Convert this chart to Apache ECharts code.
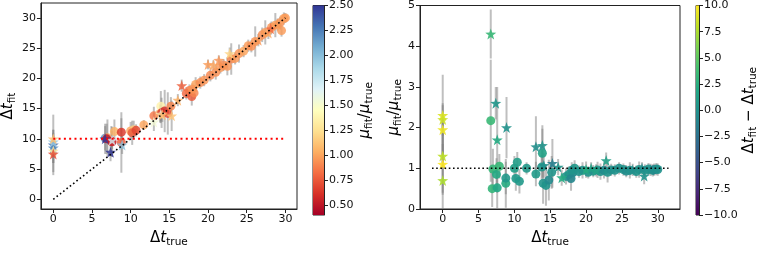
<!DOCTYPE html>
<html><head><meta charset="utf-8">
<script src="https://cdn.jsdelivr.net/npm/echarts@6/dist/echarts.min.js"></script>
<style>html,body{margin:0;padding:0;background:#fff}#c{width:760px;height:253px}</style>
</head><body><div id="c"></div>
<script>
// ---- data ----
const dtTrue = [0,0,0,0,0,0, 6.7,6.7,7.4,7.6,8.9,7.0,7.5,7.9,6.9,7.6,8.8,8.8, 10.0,10.4,10.2,10.7,11.7, 13.0,13.0,13.9,13.9,13.8,14.1,14.0,14.4,14.8,15.2,15.3, 16.1,16.6,17.2,17.6,17.9,18.2,18.4,18.0, 19.0,19.5,20.0,20.3,20.7,21.0,21.4,21.6,22.0,22.5,22.8,23.0,23.5,24.0, 24.6,25.2,25.6,26.1,26.5,27.0,27.4,27.8,28.1,28.2,28.7,29.0,29.3,29.5,29.8,30.0];
const dtFit = [9.0,8.5,9.5,8.0,10.0,7.5, 10.0,10.1,7.8,9.8,9.0,10.2,9.6,11.2,10.0,9.5,11.1,9.4, 11.3,11.5,11.0,11.4,12.3, 13.8,12.8,14.1,15.4,14.2,14.0,14.3,14.6,14.2,15.4,13.8, 16.4,18.8,17.5,18.0,17.0,17.6,19.0,18.2, 19.3,19.7,22.3,20.5,22.2,21.0,23.0,21.8,22.2,22.0,24.1,23.2,23.3,24.1, 24.5,25.4,25.3,26.1,26.3,27.2,27.6,27.5,28.2,28.4,28.8,28.9,29.2,27.9,29.9,30.0];
const dtFitErr = [5.0,2.5,2.0,2.0,1.5,3.0, 2.5,2.0,1.5,1.5,1.5,3.0,2.5,2.0,2.5,2.5,2.3,5.0, 1.5,1.5,2.0,1.0,0.8, 1.5,1.5,1.5,2.5,1.5,1.2,2.5,3.5,3.5,1.5,2.5, 1.0,1.0,1.0,1.0,1.5,1.0,1.2,1.0, 1.0,1.0,0.8,1.0,0.8,1.2,0.8,1.0,1.0,1.5,1.0,2.6,1.0,1.5, 1.0,1.0,1.0,2.5,1.0,1.2,2.0,1.0,1.0,1.0,2.0,1.0,1.0,1.0,1.0,0.8];
const muRatio = [2.3,2.2,1.95,1.3,1.1,0.7, 4.3,2.17,2.6,1.7,2.0,0.98,0.85,1.05,0.5,0.52,0.63,0.76, 1.0,1.15,0.75,0.68,1.0, 0.86,1.53,1.56,1.37,1.03,1.07,0.63,0.58,0.71,0.9,1.12, 1.03,0.77,0.8,0.85,0.75,0.9,1.0,0.95, 0.92,0.95,0.97,0.9,1.0,0.93,0.95,0.96,0.92,0.95,1.19,0.9,0.96,0.95, 1.0,0.97,0.93,0.95,0.96,0.92,0.97,1.0,0.81,0.95,0.98,0.96,0.95,0.97,0.98,0.97];
const muRatioErr = [1.0,0.4,0.6,0.9,0.75,0.9, 0.6,1.5,0.4,1.3,0.75,0.5,0.4,0.3,0.45,0.5,0.6,0.4, 0.3,0.25,0.3,0.3,0.15, 0.3,0.75,0.5,0.6,0.3,0.3,0.5,0.5,0.5,0.4,0.6, 0.2,0.2,0.2,0.2,0.3,0.2,0.2,0.2, 0.15,0.2,0.2,0.15,0.15,0.15,0.15,0.2,0.2,0.2,0.2,0.25,0.15,0.15, 0.15,0.15,0.15,0.2,0.15,0.15,0.2,0.15,0.2,0.15,0.15,0.15,0.15,0.15,0.15,0.15];
const isStar = [1,1,1,1,1,1, 1,0,1,1,1,0,0,0,0,0,0,0, 0,0,0,0,0, 0,1,1,0,0,1,0,0,0,0,1, 1,1,0,0,0,0,0,0, 0,0,1,0,1,0,1,0,0,0,1,0,0,0, 0,0,0,0,1,0,0,1,1,0,0,1,0,0,0,0];

const xTicks = [0,5,10,15,20,25,30];
const yTicksLeft = [0,5,10,15,20,25,30];
const yTicksRight = [0,1,2,3,4,5];
const muTicks = [0.5,0.75,1.0,1.25,1.5,1.75,2.0,2.25,2.5];
const diffTicks = [-10,-7.5,-5,-2.5,0,2.5,5,7.5,10];
const diagLine = [[0,0],[30,30]];
const refLineLeft = [[0,10],[30,10]];
const refLineRight = [[-1.5,1],[31.5,1]];
const muRange = [0.4, 2.5];
const diffRange = [-10, 10];

// ---- colormaps ----
const RdYlBu = ['#a50026','#d73027','#f46d43','#fdae61','#fee090','#ffffbf','#e0f3f8','#abd9e9','#74add1','#4575b4','#313695'];
const viridis = ['#440154','#482475','#414487','#355f8d','#2a788e','#21918c','#22a884','#44bf70','#7ad151','#bddf26','#fde725'];
function hex2rgb(h){return [parseInt(h.substr(1,2),16),parseInt(h.substr(3,2),16),parseInt(h.substr(5,2),16)];}
function cmap(stops,t){
  t=Math.max(0,Math.min(1,t));
  const n=stops.length-1, f=t*n, i=Math.min(Math.floor(f),n-1), u=f-i;
  const a=hex2rgb(stops[i]), b=hex2rgb(stops[i+1]);
  return 'rgb('+a.map((v,k)=>Math.round(v+(b[k]-v)*u)).join(',')+')';
}
const muColor = v => cmap(RdYlBu,(v-muRange[0])/(muRange[1]-muRange[0]));
const diffColor = v => cmap(viridis,(v-diffRange[0])/(diffRange[1]-diffRange[0]));

// ---- derived tables ----
const idx = dtTrue.map((_,i)=>i);
const leftErr = idx.map(i=>[dtTrue[i], dtFit[i]-dtFitErr[i], dtFit[i]+dtFitErr[i]]);
const rightErr = idx.map(i=>[dtTrue[i], muRatio[i]-muRatioErr[i], muRatio[i]+muRatioErr[i]]);
const leftPts = s => idx.filter(i=>isStar[i]===s).map(i=>[dtTrue[i], dtFit[i], muRatio[i]]);
const rightPts = s => idx.filter(i=>isStar[i]===s).map(i=>[dtTrue[i], muRatio[i], dtFit[i]-dtTrue[i]]);

const STAR = 'path://M0,-10L2.35,-3.24L9.51,-3.09L3.8,1.24L5.88,8.09L0,4L-5.88,8.09L-3.8,1.24L-9.51,-3.09L-2.35,-3.24Z';
const FONT = 'DejaVu Sans';
const rich = {
  a:{fontFamily:FONT,fontSize:15,color:'#000'},
  i:{fontFamily:FONT,fontSize:15,fontStyle:'italic',color:'#000'},
  s:{fontFamily:FONT,fontSize:10.5,color:'#000',verticalAlign:'bottom',padding:[8,0,0,0]}
};

function errRender(params, api){
  const x=api.value(0), p1=api.coord([x,api.value(1)]), p2=api.coord([x,api.value(2)]);
  return {type:'line',shape:{x1:p1[0],y1:p1[1],x2:p2[0],y2:p2[1]},style:{stroke:'rgba(128,128,128,0.5)',lineWidth:2}};
}
function cbRender(stops){
  return function(params, api){
    const p1=api.coord([0,api.value(2)]), p2=api.coord([1,api.value(1)]);
    const cs=stops.map((c,k)=>({offset:1-k/(stops.length-1),color:c}));
    return {type:'rect',shape:{x:p1[0],y:p1[1],width:p2[0]-p1[0],height:p2[1]-p1[1]},
      style:{fill:new echarts.graphic.LinearGradient(0,0,0,1,cs)}};
  };
}

function valAxis(o){
  const ticks=o.ticks, fmt=o.fmt||(v=>String(v));
  return Object.assign({
    type:'value', gridIndex:o.grid, min:o.min, max:o.max, position:o.position,
    axisLine:{show:true,onZero:false,lineStyle:{color:'#222',width:1}},
    axisTick:{show:true,inside:false,length:4,customValues:ticks,lineStyle:{color:'#222',width:1}},
    axisLabel:{customValues:ticks,fontFamily:FONT,fontSize:11,color:'#111',margin:5,formatter:v=>fmt(v)},
    splitLine:{show:false}
  }, o.extra||{});
}
const nameStyle = {rich:rich};

const option = {
  animation:false,
  backgroundColor:'#fff',
  grid:[
    {left:36,top:3,width:261,height:212,show:true,borderColor:'#222',borderWidth:1},
    {left:420,top:5,width:260,height:210,show:true,borderColor:'#222',borderWidth:1},
    {left:313,top:3,width:11,height:212,show:true,borderColor:'#222',borderWidth:1},
    {left:696,top:5,width:11,height:210,show:true,borderColor:'#222',borderWidth:1}
  ],
  xAxis:[
    valAxis({grid:0,min:-1.6,max:31.5,ticks:xTicks,position:'bottom',extra:{name:'{a|Δ}{i|t}{s|true}',nameLocation:'middle',nameGap:20,nameTextStyle:nameStyle}}),
    valAxis({grid:1,min:-3.17,max:33.1,ticks:xTicks,position:'bottom',extra:{name:'{a|Δ}{i|t}{s|true}',nameLocation:'middle',nameGap:20,nameTextStyle:nameStyle}}),
    {type:'value',gridIndex:2,min:0,max:1,show:false},
    {type:'value',gridIndex:3,min:0,max:1,show:false}
  ],
  yAxis:[
    valAxis({grid:0,min:-1.6,max:32.46,ticks:yTicksLeft,position:'left',extra:{name:'{a|Δ}{i|t}{s|fit}',nameLocation:'middle',nameRotate:90,nameGap:18,nameTextStyle:nameStyle}}),
    valAxis({grid:1,min:0,max:5,ticks:yTicksRight,position:'left',extra:{name:'{i|μ}{s|fit}{a|/}{i|μ}{s|true}',nameLocation:'middle',nameRotate:90,nameGap:15,nameTextStyle:nameStyle}}),
    valAxis({grid:2,min:muRange[0],max:muRange[1],ticks:muTicks,position:'right',fmt:v=>v.toFixed(2),extra:{name:'{i|μ}{s|fit}{a|/}{i|μ}{s|true}',nameLocation:'middle',nameRotate:90,nameGap:31,nameTextStyle:nameStyle}}),
    valAxis({grid:3,min:diffRange[0],max:diffRange[1],ticks:diffTicks,position:'right',fmt:v=>v.toFixed(1).replace('-','\u2212'),extra:{name:'{a|Δ}{i|t}{s|fit}{a| − Δ}{i|t}{s|true}',nameLocation:'middle',nameRotate:90,nameGap:41,nameTextStyle:nameStyle}})
  ],
  series:[
    {type:'custom',xAxisIndex:0,yAxisIndex:0,data:leftErr,renderItem:errRender,clip:true,silent:true,z:2},
    {type:'scatter',xAxisIndex:0,yAxisIndex:0,data:leftPts(0),symbol:'circle',symbolSize:9,silent:true,z:3,
      itemStyle:{opacity:0.82,color:p=>muColor(p.value[2])}},
    {type:'scatter',xAxisIndex:0,yAxisIndex:0,data:leftPts(1),symbol:STAR,symbolSize:11,silent:true,z:3,
      itemStyle:{opacity:0.82,color:p=>muColor(p.value[2])}},
    {type:'line',xAxisIndex:0,yAxisIndex:0,data:diagLine,symbol:'none',silent:true,z:4,
      lineStyle:{color:'#000',width:1.6,type:[1.6,2.6]}},
    {type:'line',xAxisIndex:0,yAxisIndex:0,data:refLineLeft,symbol:'none',silent:true,z:4,
      lineStyle:{color:'#ff0000',width:2,type:[2,3.3]}},
    {type:'custom',xAxisIndex:1,yAxisIndex:1,data:rightErr,renderItem:errRender,clip:true,silent:true,z:2},
    {type:'scatter',xAxisIndex:1,yAxisIndex:1,data:rightPts(0),symbol:'circle',symbolSize:9,silent:true,z:3,
      itemStyle:{opacity:0.9,color:p=>diffColor(p.value[2])}},
    {type:'scatter',xAxisIndex:1,yAxisIndex:1,data:rightPts(1),symbol:STAR,symbolSize:11,silent:true,z:3,
      itemStyle:{opacity:0.9,color:p=>diffColor(p.value[2])}},
    {type:'line',xAxisIndex:1,yAxisIndex:1,data:refLineRight,symbol:'none',silent:true,z:4,
      lineStyle:{color:'#000',width:1.6,type:[1.6,2.6]}},
    {type:'custom',xAxisIndex:2,yAxisIndex:2,data:[[0,muRange[0],muRange[1]]],renderItem:cbRender(RdYlBu),silent:true},
    {type:'custom',xAxisIndex:3,yAxisIndex:3,data:[[0,diffRange[0],diffRange[1]]],renderItem:cbRender(viridis),silent:true}
  ]
};
const chart = echarts.init(document.getElementById('c'), null, {renderer:'canvas'});
chart.setOption(option);
</script></body></html>
